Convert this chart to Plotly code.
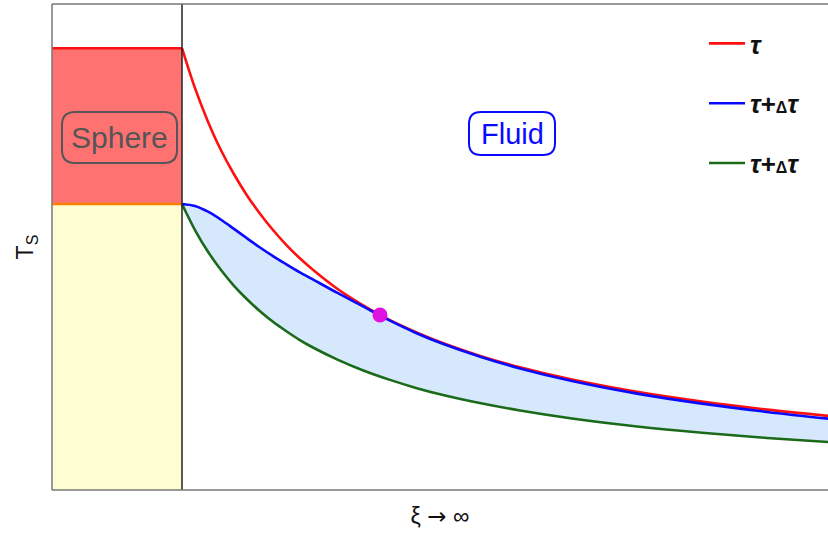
import plotly.graph_objects as go

# ---- data ----
xi = [1.0, 1.1, 1.2, 1.3, 1.4, 1.5, 1.6, 1.7, 1.8, 1.9, 2.0, 2.2, 2.4, 2.6, 2.8,
      3.0, 3.3, 3.6, 4.0, 4.5, 5.0, 5.5, 6.0]
tau = [1.545, 1.405, 1.288, 1.188, 1.104, 1.030, 0.966, 0.909, 0.858, 0.813, 0.773,
       0.702, 0.644, 0.594, 0.552, 0.515, 0.468, 0.429, 0.386, 0.343, 0.309, 0.281, 0.258]
tau_blue = [1.000, 0.993, 0.973, 0.945, 0.913, 0.880, 0.848, 0.818, 0.790, 0.763, 0.738,
            0.688, 0.640, 0.592, 0.549, 0.512, 0.465, 0.425, 0.381, 0.337, 0.302, 0.273, 0.248]
tau_green = [1.000, 0.909, 0.833, 0.769, 0.714, 0.667, 0.625, 0.588, 0.556, 0.526, 0.500,
             0.455, 0.417, 0.385, 0.357, 0.333, 0.303, 0.278, 0.250, 0.222, 0.200, 0.182, 0.167]
sphere_radius = 1.0
sphere_top = 1.545
sphere_surface = 1.0
dot_xi = [2.523]
dot_t = [0.612]
legend_names = ["<b><i>τ</i></b>",
                "<b><i>τ</i>+<span style='font-size:16px'>Δ</span><i>τ</i></b>",
                "<b><i>τ</i>+<span style='font-size:16px'>Δ</span><i>τ</i></b>"]

W, H = 828, 535
ML, MR, MT, MB = 52, 0, 4, 45
PW, PH = W - ML - MR, H - MT - MB
XMAX = PW / 130.0
YMAX = PH / 286.0


def px(X):
    return (X - ML) / PW


def py(Y):
    return (H - MB - Y) / PH


def rounded(x0, y0, x1, y1, r):
    a0, a1 = px(x0), px(x1)
    b0, b1 = py(y0), py(y1)
    rx, ry = r / PW, r / PH
    return (f"M {a0+rx},{b0} L {a1-rx},{b0} Q {a1},{b0} {a1},{b0-ry} "
            f"L {a1},{b1+ry} Q {a1},{b1} {a1-rx},{b1} L {a0+rx},{b1} "
            f"Q {a0},{b1} {a0},{b1+ry} L {a0},{b0-ry} Q {a0},{b0} {a0+rx},{b0} Z")


fig = go.Figure()
fig.add_trace(go.Scatter(x=xi, y=tau, mode="lines", name=legend_names[0],
                         line=dict(color="#ff1010", width=2.6, shape="spline"),
                         legendgroup="a", legendrank=1))
fig.add_trace(go.Scatter(x=xi, y=tau_green, mode="lines", name=legend_names[2],
                         line=dict(color="#1a6a1a", width=2.6, shape="spline"),
                         legendgroup="c", legendrank=3))
fig.add_trace(go.Scatter(x=xi, y=tau_blue, mode="lines", showlegend=False,
                         line=dict(color="rgba(0,0,0,0)", width=0, shape="spline"),
                         fill="tonexty", fillcolor="rgba(200,224,250,0.75)",
                         hoverinfo="skip"))
fig.add_trace(go.Scatter(x=xi, y=tau_blue, mode="lines", name=legend_names[1],
                         line=dict(color="#0a0aff", width=2.6, shape="spline"),
                         legendgroup="b", legendrank=2))
fig.add_trace(go.Scatter(x=dot_xi, y=dot_t, mode="markers", showlegend=False,
                         marker=dict(color="#e010e0", size=15)))

shapes = [
    dict(type="rect", xref="x", yref="y", x0=0, x1=sphere_radius, y0=0, y1=sphere_surface,
         fillcolor="#fffdd2", line=dict(width=0), layer="below"),
    dict(type="rect", xref="x", yref="y", x0=0, x1=sphere_radius, y0=sphere_surface, y1=sphere_top,
         fillcolor="#ff7272", line=dict(width=0), layer="below"),
    dict(type="line", xref="x", yref="y", x0=0, x1=sphere_radius, y0=sphere_top, y1=sphere_top,
         line=dict(color="#ff1010", width=2.5)),
    dict(type="line", xref="x", yref="y", x0=0, x1=sphere_radius, y0=sphere_surface, y1=sphere_surface,
         line=dict(color="#ff8000", width=2.5)),
    dict(type="line", xref="x", yref="paper", x0=sphere_radius, x1=sphere_radius, y0=0, y1=1,
         line=dict(color="#222222", width=1.5)),
    dict(type="line", xref="paper", yref="paper", x0=0, x1=0, y0=0, y1=1,
         line=dict(color="#777777", width=1.5)),
    dict(type="line", xref="paper", yref="paper", x0=0, x1=1, y0=0, y1=0,
         line=dict(color="#777777", width=1.5)),
    dict(type="line", xref="paper", yref="paper", x0=0, x1=1, y0=1, y1=1,
         line=dict(color="#777777", width=1.5)),
    dict(type="path", xref="paper", yref="paper", path=rounded(62, 112, 177, 163, 13),
         line=dict(color="#555555", width=2)),
    dict(type="path", xref="paper", yref="paper", path=rounded(469, 112, 555, 155, 12),
         line=dict(color="#0a0aff", width=2)),
]

annotations = [
    dict(xref="paper", yref="paper", x=px(119), y=py(137.5), text="Sphere", showarrow=False,
         xanchor="center", yanchor="middle",
         font=dict(family="Liberation Sans, Arial", size=30, color="#555555")),
    dict(xref="paper", yref="paper", x=px(512), y=py(134), text="Fluid", showarrow=False,
         xanchor="center", yanchor="middle",
         font=dict(family="Liberation Sans, Arial", size=29, color="#0a0aff")),
]

fig.update_layout(
    width=W, height=H,
    margin=dict(l=ML, r=MR, t=MT, b=MB),
    paper_bgcolor="white", plot_bgcolor="white",
    shapes=shapes, annotations=annotations,
    xaxis=dict(range=[0, XMAX], showgrid=False, zeroline=False, showticklabels=False,
               ticks="", showline=False,
               title=dict(text="ξ <span style='font-family:DejaVu Sans'>→</span> ∞", standoff=17,
                          font=dict(family="Liberation Sans, Arial", size=23, color="#111"))),
    yaxis=dict(range=[0, YMAX], showgrid=False, zeroline=False, showticklabels=False,
               ticks="", showline=False,
               title=dict(text="T<sub>S</sub>", standoff=10,
                          font=dict(family="Liberation Sans, Arial", size=23, color="#111"))),
    legend=dict(x=px(704), y=py(20), xanchor="left", yanchor="top",
                bgcolor="rgba(0,0,0,0)", tracegroupgap=23, itemwidth=36,
                font=dict(family="Liberation Sans, Arial", size=26, color="#111")),
    showlegend=True,
)

fig.write_html("out.html", config={"displayModeBar": False},
               post_script="document.body.style.margin='0';document.body.style.padding='0';")
